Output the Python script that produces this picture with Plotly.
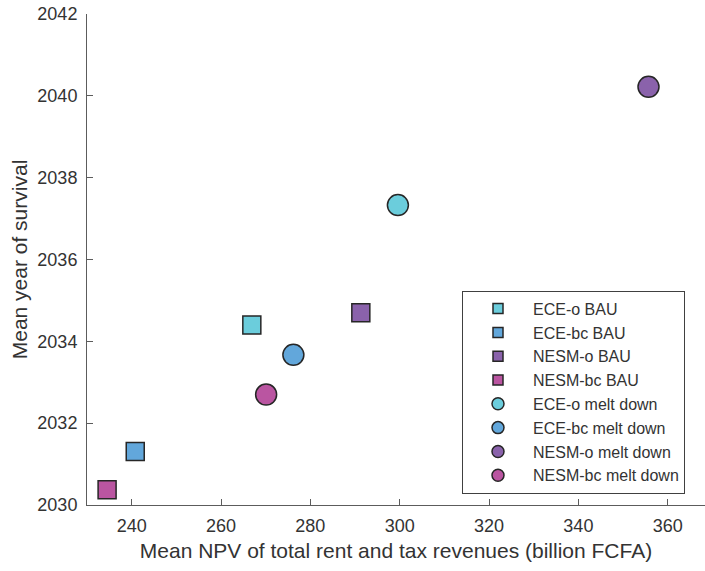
import plotly.graph_objects as go

# Scenario names and colours
scenarios = ["ECE-o", "ECE-bc", "NESM-o", "NESM-bc"]
colors = ["#6BCDDC", "#62A7DB", "#8A62AB", "#BA55A1"]

# BAU values (square markers)
bau_npv = [266.9, 240.8, 291.3, 234.5]
bau_year = [2034.40, 2031.31, 2034.70, 2030.37]

# melt down values (circle markers)
melt_npv = [299.6, 276.2, 355.7, 270.1]
melt_year = [2037.33, 2033.67, 2040.22, 2032.70]

x_ticks = [240, 260, 280, 300, 320, 340, 360]
y_ticks = [2030, 2032, 2034, 2036, 2038, 2040, 2042]

EDGE = "#262626"
TXT = "#333333"
AX = "#5c5c5c"

fig = go.Figure()

groups = [("BAU", "square", bau_npv, bau_year, 18, 10),
          ("melt down", "circle", melt_npv, melt_year, 21, 12)]

for label, symbol, xs, ys, size, leg_size in groups:
    for name, color, x, y in zip(scenarios, colors, xs, ys):
        # the real point
        fig.add_trace(go.Scatter(
            x=[x], y=[y], mode="markers",
            marker=dict(symbol=symbol, size=size, color=color,
                        line=dict(color=EDGE, width=1.5)),
            showlegend=False, hoverinfo="skip",
        ))
        # smaller marker for the legend only
        fig.add_trace(go.Scatter(
            x=[None], y=[None], mode="markers",
            marker=dict(symbol=symbol, size=leg_size, color=color,
                        line=dict(color=EDGE, width=1.5)),
            name=f"{name} {label}",
        ))

W, H = 705, 571
ml, mt, mb = 87, 14, 65.5
plot_w = W - ml
plot_h = H - mt - mb

fig.update_layout(
    width=W, height=H,
    margin=dict(l=ml, r=0, t=mt, b=mb),
    paper_bgcolor="white", plot_bgcolor="white",
    font=dict(family="Liberation Sans, Arial, sans-serif", color=TXT, size=18),
    showlegend=True,
    legend=dict(
        x=(462 - ml) / plot_w, y=(H - mb - 291) / plot_h,
        xanchor="left", yanchor="top",
        bordercolor="#404040", borderwidth=1,
        bgcolor="white",
        font=dict(size=16, color=TXT),
        itemwidth=60,
        tracegroupgap=0,
    ),
    xaxis=dict(
        range=[230, 230 + plot_w / 4.467],
        tickvals=x_ticks,
        ticks="inside", ticklen=6, tickcolor=AX, tickwidth=1,
        ticklabelstandoff=4,
        showline=True, linecolor=AX, linewidth=1,
        showgrid=False, zeroline=False, automargin=False,
        tickfont=dict(size=18, color=TXT),
        title=dict(text="Mean NPV of total rent and tax revenues (billion FCFA)",
                   font=dict(size=21, color=TXT), standoff=8),
    ),
    yaxis=dict(
        range=[2030, 2042],
        tickvals=y_ticks,
        ticks="inside", ticklen=6, tickcolor=AX, tickwidth=1,
        ticklabelstandoff=5,
        showline=True, linecolor=AX, linewidth=1,
        showgrid=False, zeroline=False, automargin=False,
        tickfont=dict(size=18, color=TXT),
        title=dict(text="Mean year of survival",
                   font=dict(size=21, color=TXT), standoff=4),
    ),
)

# drop the default 8px page margin so the figure fills the window
fig.write_html("out.html", config={"displayModeBar": False},
               post_script="document.body.style.margin='0';")
